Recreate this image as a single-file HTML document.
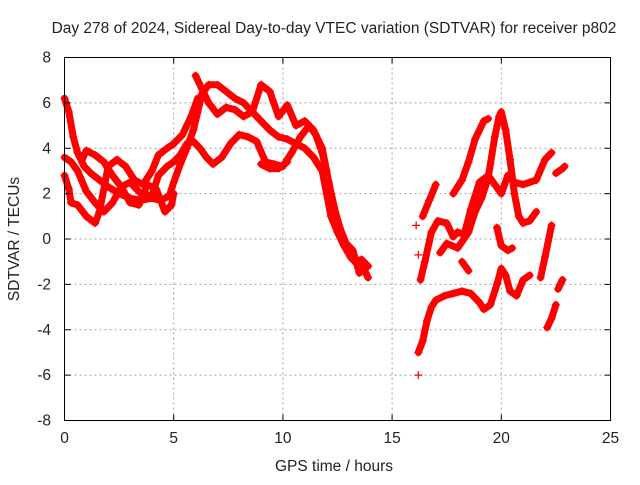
<!DOCTYPE html>
<html><head><meta charset="utf-8"><style>
body{margin:0;background:#fff;}
svg text{font-family:"Liberation Sans",sans-serif;font-size:15.5px;fill:#222;}
</style></head><body>
<svg id="chart" width="640" height="480" viewBox="0 0 640 480" xmlns="http://www.w3.org/2000/svg">
<text x="334" y="33" text-anchor="middle">Day 278 of 2024, Sidereal Day-to-day VTEC variation (SDTVAR) for receiver p802</text>
<g id="grid"></g>
<g id="marks"></g>
<rect x="64.5" y="57.5" width="546" height="363" fill="none" stroke="#000"/>
<g id="axes"></g>
<text x="334" y="471" text-anchor="middle">GPS time / hours</text>
<text transform="translate(19,239) rotate(-90)" text-anchor="middle">SDTVAR / TECUs</text>
</svg>
<script>
const xTicks=[0,5,10,15,20,25];
const yTicks=[-8,-6,-4,-2,0,2,4,6,8];
const t1=[[0,6.2],[0.2,5.6],[0.4,4.5],[0.6,3.8],[0.9,3.2],[1.2,2.9],[1.6,2.6],[2.0,2.3],[2.5,2.0],[3.0,1.8],[3.5,1.7],[4.0,1.8],[4.4,1.7],[4.8,1.9],[5.0,2.5],[5.3,3.3],[5.6,4.0],[5.9,4.8],[6.1,5.6],[6.3,6.4],[6.6,6.8],[7.0,6.8],[7.4,6.5],[7.8,6.2],[8.2,6.0],[8.6,5.6],[9.0,5.2],[9.4,4.8],[9.8,4.5],[10.2,4.4],[10.6,4.2],[11.0,4.0],[11.4,3.6],[11.8,3.0],[12.0,2.0],[12.2,1.0],[12.5,0.3],[12.8,-0.3],[13.1,-0.8],[13.4,-1.1],[13.7,-1.3],[13.9,-1.7]];
const t2=[[0,3.6],[0.3,3.4],[0.6,3.0],[1.0,2.1],[1.4,1.6],[1.8,1.2],[2.2,1.6],[2.6,2.3],[3.0,2.5],[3.5,2.0],[4.0,1.9],[4.3,2.8],[4.7,3.2],[5.0,3.4],[5.3,3.7],[5.6,4.2],[5.9,4.3],[6.2,4.0],[6.5,3.6],[6.8,3.3],[7.2,3.6],[7.6,4.2],[8.0,4.6],[8.4,4.5],[8.8,4.3],[9.2,3.4],[9.6,3.3],[10.0,3.2],[10.4,3.8],[10.8,4.5],[11.2,5.0],[11.5,4.6],[11.8,3.8],[12.1,2.5],[12.4,1.2],[12.7,0.2],[13.0,-0.5],[13.3,-1.0],[13.6,-0.9],[13.9,-1.2]];
const t3=[[0,2.8],[0.2,2.2],[0.3,1.6],[0.6,1.5],[1.0,1.0],[1.4,0.7],[1.6,1.2],[2.0,3.2],[2.4,3.5],[2.8,3.2],[3.2,2.6],[3.6,2.4],[4.0,3.0],[4.3,3.7],[4.7,4.0],[5.0,4.2],[5.4,4.6],[5.8,5.4],[6.1,6.2]];
const t4=[[0.8,3.5],[1.0,3.9],[1.4,3.7],[1.8,3.4],[2.2,2.8],[2.6,2.3],[3.0,1.6],[3.4,1.5],[3.8,2.4],[4.2,2.2],[4.6,1.2],[4.9,1.5],[5.0,2.0]];
const t5=[[6.0,7.2],[6.3,6.6],[6.6,6.0],[7.0,5.5],[7.4,5.8],[7.8,5.7],[8.2,5.4],[8.6,5.6],[9.0,6.8],[9.4,6.5],[9.8,5.4],[10.2,5.9],[10.6,5.0],[11.0,5.2],[11.4,4.8],[11.8,4.0],[12.0,3.0],[12.3,1.5],[12.6,0.5],[12.9,-0.2],[13.2,-0.5],[13.5,-1.5]];
const t6=[[9.0,3.3],[9.4,3.1],[9.8,3.1],[10.2,3.4]];
const r1=[[16.2,-5.0],[16.4,-4.5],[16.6,-3.6],[16.8,-3.0],[17.0,-2.7],[17.4,-2.5],[17.8,-2.4],[18.2,-2.3],[18.6,-2.4],[19.0,-2.8],[19.2,-3.1],[19.5,-2.9],[19.8,-2.0],[20.0,-1.3],[20.2,-1.6],[20.4,-2.3],[20.7,-2.5],[21.0,-1.8],[21.3,-1.6]];
const r2=[[16.3,-1.8],[16.5,-1.0],[16.8,0.3],[17.1,0.8],[17.5,0.7],[17.8,0.1],[18.0,0.3],[18.3,0.2],[18.6,1.3],[19.0,2.5],[19.4,2.8],[19.7,2.4],[20.0,2.0],[20.3,2.8],[20.6,2.5],[21.0,2.4],[21.3,2.5],[21.6,2.6],[22.0,3.5],[22.3,3.8]];
const r3=[[17.2,-0.6],[17.5,-0.2],[18.0,-0.4],[18.5,0.3],[18.8,1.2],[19.1,1.8],[19.4,2.7],[19.7,4.5],[19.9,5.4],[20.0,5.6],[20.2,4.8],[20.4,3.5],[20.6,2.0],[20.8,1.0],[21.0,0.7],[21.3,0.8],[21.6,1.2]];
const r4=[[16.4,1.0],[16.7,1.7],[17.0,2.4]];
const r5=[[19.8,0.5],[20.0,-0.3],[20.3,-0.5],[20.5,-0.4]];
const r6=[[21.8,-1.7],[22.0,-0.8],[22.3,0.6]];
const r7=[[22.1,-3.9],[22.3,-3.5],[22.5,-2.9]];
const r8=[[22.6,-2.2],[22.8,-1.8]];
const r9=[[22.5,2.9],[22.8,3.1],[22.9,3.2]];
const r10=[[17.8,2.0],[18.2,2.6],[18.5,3.4],[18.8,4.4],[19.2,5.2],[19.4,5.3]];
const r11=[[18.2,-1.0],[18.5,-1.4]];
const singles=[[16.2,-6.0],[16.1,0.6],[16.2,-0.7]];
const series=[t1,t2,t3,t4,t5,t6,r1,r2,r3,r4,r5,r6,r7,r8,r9,r10,r11];
const X=v=>64.5+v*546/25, Y=v=>420.5-(v+8)*363/16;
const NS="http://www.w3.org/2000/svg";
function mk(tag,at,parent){const e=document.createElementNS(NS,tag);for(const k in at)e.setAttribute(k,at[k]);parent.appendChild(e);return e;}
const grid=document.getElementById('grid'),axes=document.getElementById('axes'),marks=document.getElementById('marks');
xTicks.forEach(t=>{
 if(t>0&&t<25){const g=mk('line',{x1:X(t),x2:X(t),y1:57.5,y2:420.5,stroke:'#a0a0a0','stroke-dasharray':'2,3'},grid);}
 const l=mk('text',{x:X(t),y:443,'text-anchor':'middle'},axes);l.textContent=t;
 
 
 mk('line',{x1:X(t),x2:X(t),y1:420.5,y2:414.5,stroke:'#000'},axes);mk('line',{x1:X(t),x2:X(t),y1:57.5,y2:63.5,stroke:'#000'},axes);
});
yTicks.forEach(t=>{
 if(t>-8&&t<8){const g=mk('line',{x1:64.5,x2:610.5,y1:Y(t),y2:Y(t),stroke:'#a0a0a0','stroke-dasharray':'2,3'},grid);}
 const l=mk('text',{x:51,y:Y(t)+5,'text-anchor':'end'},axes);l.textContent=t;
 
 
 mk('line',{x1:64.5,x2:70.5,y1:Y(t),y2:Y(t),stroke:'#000'},axes);mk('line',{x1:604.5,x2:610.5,y1:Y(t),y2:Y(t),stroke:'#000'},axes);
});
function plus(p){const x=X(p[0]),y=Y(p[1]);const m=mk('path',{d:`M${x-4},${y}H${x+4}M${x},${y-4}V${y+4}`,stroke:'#f00','stroke-width':1.2,fill:'none'},marks);
 
 }
series.forEach(s=>{
 const pl=mk('polyline',{points:s.map(p=>X(p[0])+','+Y(p[1])).join(' '),fill:'none',stroke:'#f00','stroke-width':7,'stroke-linejoin':'round','stroke-linecap':'round'},marks);
 
 
 s.forEach(plus);
});
singles.forEach(plus);
</script>
</body></html>
